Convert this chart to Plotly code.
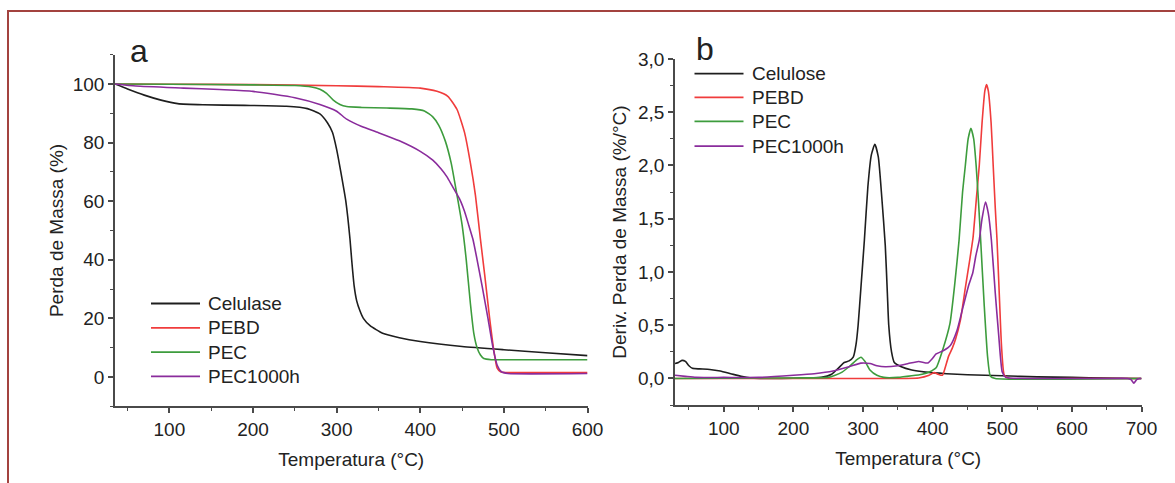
import plotly.graph_objects as go

# ---------------- TGA curves (panel a) ----------------
cel_T = [35, 50, 70, 90, 110, 140, 190, 240, 265, 280, 289, 295, 300, 305, 311, 316,
         318, 321, 324, 328, 332, 340, 355, 375, 400, 450, 500, 550, 600]
cel_m = [100, 98.3, 96.2, 94.5, 93.3, 92.9, 92.7, 92.4, 91.6, 89.8, 86.8, 83.5, 77.7, 70, 60, 47,
         40, 31, 26, 22.5, 20, 17.5, 14.9, 13.4, 12.1, 10.4, 9.3, 8.3, 7.3]

pebd_T = [35, 100, 200, 300, 350, 400, 420, 433, 444, 453, 460, 466, 472, 477, 483, 488,
          492, 496, 502, 520, 600]
pebd_m = [100, 99.9, 99.8, 99.4, 99.1, 98.6, 97.5, 95.8, 91.3, 83.4, 73, 62, 47, 35, 20, 9,
          3, 1.8, 1.5, 1.5, 1.5]

pec_T = [35, 100, 200, 250, 270, 280, 288, 296, 304, 312, 330, 360, 390, 405, 415, 422, 430,
         437, 444, 450, 455, 460, 464, 468, 472, 476, 485, 520, 600]
pec_m = [100, 99.9, 99.7, 99.5, 99.0, 98.2, 96.8, 94.5, 93, 92.3, 92.0, 91.8, 91.5, 90.8, 88.8,
         86, 80.5, 73, 62, 52, 40, 25, 15, 10, 7.5, 6.3, 5.9, 5.9, 5.9]

pec1000_T = [35, 60, 117, 160, 200, 250, 280, 300, 312, 330, 350, 375, 400, 415, 425, 432,
             438, 447, 453, 458, 463, 468, 474, 481, 487, 492, 497, 505, 600]
pec1000_m = [100, 99.3, 98.6, 98.1, 97.5, 95.3, 93, 90.7, 88, 85.5, 83.4, 80.6, 77.0, 74.0,
             71.0, 68.3, 65.3, 60.8, 56.5, 51.8, 47, 40, 31, 20, 10, 4, 1.8, 1.2, 1.2]

# ---------------- DTG curves (panel b) ----------------
dcel_T = [30, 35, 40, 45, 50, 55, 65, 80, 95, 110, 125, 140, 160, 200, 240, 255, 265, 273,
          280, 286, 290, 293, 297, 302, 307, 312, 317, 322, 327, 332, 335, 337, 341, 345,
          355, 370, 390, 420, 450, 500, 550, 600, 650, 700]
dcel_v = [0.14, 0.15, 0.17, 0.16, 0.12, 0.095, 0.09, 0.085, 0.07, 0.045, 0.02, 0.005, 0.0,
          0.002, 0.01, 0.04, 0.1, 0.15, 0.165, 0.2, 0.32, 0.5, 0.85, 1.3, 1.8, 2.1, 2.2, 2.08,
          1.7, 1.25, 0.8, 0.5, 0.25, 0.15, 0.11, 0.08, 0.06, 0.045, 0.035, 0.025, 0.015, 0.01,
          0.005, 0.0]

dpebd_T = [30, 100, 200, 300, 380, 395, 402, 408, 414, 418, 423, 428, 433, 440, 447, 453,
           458, 463, 467, 471, 475, 477.5, 480, 484, 487, 490, 492.5, 496, 499, 503, 510,
           600, 700]
dpebd_v = [0, 0, 0, 0, 0.005, 0.03, 0.055, 0.04, 0.03, 0.1, 0.21, 0.28, 0.37, 0.55, 0.85,
           1.1, 1.32, 1.7, 2.0, 2.4, 2.7, 2.76, 2.7, 2.4, 2.0, 1.6, 1.3, 0.75, 0.3, 0.03, 0.0,
           0.0, 0.0]

dpec_T = [30, 100, 200, 250, 260, 270, 280, 290, 297, 303, 310, 320, 330, 350, 370, 385,
          395, 405, 414.5, 425, 432, 438, 443, 447, 451, 455, 459, 462.5, 466, 469, 474,
          479, 483, 490, 700]
dpec_v = [0.0, 0.003, 0.005, 0.01, 0.03, 0.06, 0.11, 0.17, 0.2, 0.16, 0.08, 0.03, 0.01, 0.01,
          0.025, 0.04, 0.06, 0.1, 0.27, 0.52, 0.9, 1.3, 1.75, 2.0, 2.25, 2.35, 2.25, 2.0,
          1.65, 1.3, 0.7, 0.2, 0.02, 0.0, 0.0]

dpec1000_T = [30, 45, 60, 100, 150, 200, 230, 257, 280, 297, 310, 320, 332, 350, 365, 380,
              393, 400, 405, 415, 425.5, 435, 444, 452, 457.6, 462, 467, 471, 476, 480,
              484.4, 490, 495, 500, 505, 550, 650, 680, 685, 689, 693, 697, 700]
dpec1000_v = [0.03, 0.02, 0.01, 0.01, 0.01, 0.03, 0.045, 0.07, 0.11, 0.144, 0.14, 0.12, 0.11,
              0.12, 0.14, 0.16, 0.145, 0.19, 0.23, 0.26, 0.31, 0.45, 0.68, 0.88, 0.99, 1.15,
              1.3, 1.5, 1.656, 1.55, 1.3, 0.8, 0.4, 0.06, 0.01, 0.0, 0.0, 0.0, -0.01, -0.045,
              -0.01, 0.0, 0.0]

# tick labels
tga_x_ticks = [100, 200, 300, 400, 500, 600]
tga_y_ticks = [0, 20, 40, 60, 80, 100]
dtg_x_ticks = [100, 200, 300, 400, 500, 600, 700]
dtg_y_ticks = [0.0, 0.5, 1.0, 1.5, 2.0, 2.5, 3.0]
dtg_y_text = ["0,0", "0,5", "1,0", "1,5", "2,0", "2,5", "3,0"]

names_a = ["Celulase", "PEBD", "PEC", "PEC1000h"]
names_b = ["Celulose", "PEBD", "PEC", "PEC1000h"]
colors = ["#1e1e1e", "#f03c3c", "#3d9c3d", "#8a2c9c"]

W, H = 1175, 483
FONT = "Liberation Sans, Arial, sans-serif"
TXT = "#222222"
AX = "#4a4a4a"


def px(v):
    return v / W


def py(v):
    return 1 - v / H


fig = go.Figure()

tga = [(cel_T, cel_m), (pebd_T, pebd_m), (pec_T, pec_m), (pec1000_T, pec1000_m)]
for i, (t, m) in enumerate(tga):
    fig.add_trace(go.Scatter(
        x=t, y=m, mode="lines", name=names_a[i], showlegend=False,
        line=dict(color=colors[i], width=1.6, shape="spline", smoothing=0.5),
        xaxis="x", yaxis="y", hoverinfo="skip"))

dtg = [(dcel_T, dcel_v), (dpebd_T, dpebd_v), (dpec_T, dpec_v), (dpec1000_T, dpec1000_v)]
for i, (t, v) in enumerate(dtg):
    fig.add_trace(go.Scatter(
        x=t, y=v, mode="lines", name=names_b[i], showlegend=False,
        line=dict(color=colors[i], width=1.6, shape="spline", smoothing=0.5),
        xaxis="x2", yaxis="y2", hoverinfo="skip"))

axis_common = dict(
    showline=True, linecolor=AX, linewidth=1.5, mirror=False,
    showgrid=False, zeroline=False,
    ticks="outside", ticklen=5, tickwidth=1.5, tickcolor=AX,
    tickfont=dict(family=FONT, size=19, color=TXT),
    minor=dict(ticks="outside", ticklen=3, tickwidth=1.3, tickcolor=AX, showgrid=False),
    automargin=False,
)

fig.update_layout(
    width=W, height=H,
    margin=dict(l=0, r=0, t=0, b=0),
    paper_bgcolor="white", plot_bgcolor="white",
    font=dict(family=FONT, size=19, color=TXT),
    showlegend=False,
    xaxis=dict(domain=[px(115), px(587.5)], range=[35, 600], anchor="y",
               tickvals=tga_x_ticks, minor_dtick=50, minor_tick0=0,
               title=dict(text="Temperatura (°C)", standoff=14,
                          font=dict(family=FONT, size=19, color=TXT)),
               **axis_common),
    yaxis=dict(domain=[py(406.3), py(54.7)], range=[-10, 110], anchor="x",
               tickvals=tga_y_ticks, minor_dtick=10, minor_tick0=0,
               title=dict(text="Perda de Massa (%)", standoff=4,
                          font=dict(family=FONT, size=19, color=TXT)),
               **axis_common),
    xaxis2=dict(domain=[px(675), px(1141.5)], range=[30, 700], anchor="y2",
                tickvals=dtg_x_ticks, minor_dtick=50, minor_tick0=0,
                title=dict(text="Temperatura (°C)", standoff=14,
                           font=dict(family=FONT, size=19, color=TXT)),
                **axis_common),
    yaxis2=dict(domain=[py(405.1), py(59)], range=[-0.25, 3.0], anchor="x2",
                tickvals=dtg_y_ticks, ticktext=dtg_y_text, minor_dtick=0.25, minor_tick0=0,
                title=dict(text="Deriv. Perda de Massa (%/°C)", standoff=6,
                           font=dict(family=FONT, size=19, color=TXT)),
                **axis_common),
)

# legends: a short line sample followed by the series name
legend_a = dict(x_line=(151, 200), x_text=206, rows=[303.5, 327.8, 352.1, 376.4])
legend_b = dict(x_line=(694.5, 743.5), x_text=749.5, rows=[73.6, 97.4, 121.4, 146.2])
for spec, names in ((legend_a, names_a), (legend_b, names_b)):
    for i, name in enumerate(names):
        yr = py(spec["rows"][i])
        fig.add_shape(type="line", xref="paper", yref="paper",
                      x0=px(spec["x_line"][0]), x1=px(spec["x_line"][1]), y0=yr, y1=yr,
                      line=dict(color=colors[i], width=1.8))
        fig.add_annotation(text=name, x=px(spec["x_text"]), y=yr, xref="paper", yref="paper",
                           xanchor="left", yanchor="middle", showarrow=False,
                           font=dict(family=FONT, size=19, color=TXT))

# panel letters
fig.add_annotation(text="a", x=px(128), y=py(51), xref="paper", yref="paper",
                   xanchor="left", yanchor="middle", showarrow=False,
                   font=dict(family=FONT, size=32, color=TXT))
fig.add_annotation(text="b", x=px(694), y=py(49), xref="paper", yref="paper",
                   xanchor="left", yanchor="middle", showarrow=False,
                   font=dict(family=FONT, size=32, color=TXT))

# frame around the figure
fig.add_shape(type="rect", xref="paper", yref="paper",
              x0=px(8), x1=1.02, y0=-0.05, y1=py(11),
              line=dict(color="#a3433f", width=2), fillcolor="rgba(0,0,0,0)", layer="below")

fig.write_html("out.html")
